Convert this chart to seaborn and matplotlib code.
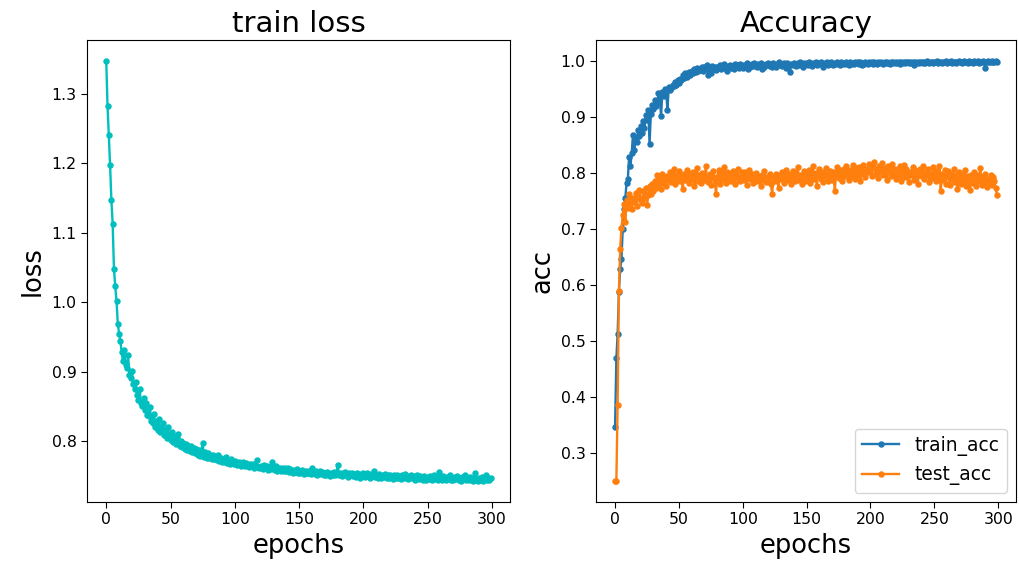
import matplotlib
matplotlib.use('Agg')
import matplotlib.pyplot as plt
import seaborn as sns

# per-epoch values
epochs = list(range(300))

train_loss = [
    1.347, 1.283, 1.240, 1.197, 1.147, 1.113, 1.048, 1.023, 1.002, 0.969,
    0.955, 0.945, 0.928, 0.916, 0.931, 0.910, 0.905, 0.924, 0.895, 0.891,
    0.901, 0.882, 0.876, 0.886, 0.866, 0.859, 0.875, 0.855, 0.851, 0.862,
    0.845, 0.855, 0.838, 0.836, 0.849, 0.829, 0.827, 0.840, 0.821, 0.829,
    0.817, 0.832, 0.813, 0.820, 0.827, 0.809, 0.816, 0.805, 0.821, 0.806,
    0.802, 0.813, 0.799, 0.808, 0.796, 0.805, 0.811, 0.794, 0.801, 0.792,
    0.798, 0.789, 0.796, 0.787, 0.794, 0.786, 0.793, 0.784, 0.791, 0.783,
    0.789, 0.781, 0.788, 0.779, 0.786, 0.797, 0.778, 0.785, 0.776, 0.783,
    0.776, 0.781, 0.775, 0.780, 0.774, 0.778, 0.773, 0.780, 0.772, 0.776,
    0.771, 0.775, 0.770, 0.777, 0.769, 0.773, 0.768, 0.774, 0.770, 0.767,
    0.772, 0.768, 0.766, 0.771, 0.767, 0.765, 0.770, 0.766, 0.764, 0.769,
    0.765, 0.763, 0.768, 0.764, 0.767, 0.762, 0.766, 0.773, 0.763, 0.761,
    0.765, 0.762, 0.760, 0.766, 0.761, 0.764, 0.759, 0.763, 0.760, 0.770,
    0.761, 0.759, 0.764, 0.758, 0.762, 0.759, 0.757, 0.761, 0.758, 0.762,
    0.757, 0.761, 0.756, 0.760, 0.757, 0.755, 0.759, 0.756, 0.760, 0.755,
    0.758, 0.754, 0.759, 0.756, 0.753, 0.758, 0.755, 0.754, 0.757, 0.753,
    0.762, 0.755, 0.753, 0.757, 0.752, 0.755, 0.758, 0.753, 0.756, 0.752,
    0.755, 0.751, 0.756, 0.753, 0.750, 0.755, 0.752, 0.756, 0.751, 0.754,
    0.766, 0.752, 0.755, 0.750, 0.754, 0.751, 0.756, 0.752, 0.749, 0.754,
    0.751, 0.755, 0.750, 0.753, 0.749, 0.754, 0.751, 0.748, 0.753, 0.750,
    0.754, 0.749, 0.752, 0.755, 0.750, 0.748, 0.753, 0.750, 0.757, 0.749,
    0.752, 0.748, 0.753, 0.750, 0.747, 0.752, 0.749, 0.753, 0.748, 0.751,
    0.747, 0.752, 0.749, 0.746, 0.751, 0.748, 0.752, 0.747, 0.750, 0.746,
    0.751, 0.748, 0.753, 0.747, 0.750, 0.746, 0.749, 0.752, 0.747, 0.750,
    0.745, 0.749, 0.751, 0.746, 0.750, 0.747, 0.745, 0.750, 0.747, 0.744,
    0.749, 0.746, 0.750, 0.745, 0.748, 0.751, 0.746, 0.749, 0.745, 0.756,
    0.747, 0.745, 0.750, 0.746, 0.744, 0.749, 0.746, 0.751, 0.745, 0.748,
    0.744, 0.749, 0.746, 0.750, 0.745, 0.748, 0.743, 0.749, 0.746, 0.752,
    0.745, 0.748, 0.744, 0.749, 0.746, 0.743, 0.748, 0.754, 0.745, 0.743,
    0.747, 0.744, 0.749, 0.743, 0.746, 0.752, 0.744, 0.748, 0.745, 0.747,
]

train_acc = [
    0.347, 0.469, 0.513, 0.588, 0.629, 0.647, 0.700, 0.736, 0.755, 0.782,
    0.790, 0.829, 0.812, 0.835, 0.868, 0.841, 0.862, 0.855, 0.877, 0.866,
    0.884, 0.871, 0.892, 0.880, 0.903, 0.895, 0.913, 0.852, 0.905, 0.921,
    0.914, 0.930, 0.919, 0.925, 0.942, 0.936, 0.901, 0.944, 0.938, 0.950,
    0.946, 0.912, 0.953, 0.948, 0.951, 0.958, 0.955, 0.962, 0.957, 0.966,
    0.960, 0.968, 0.966, 0.975, 0.970, 0.978, 0.972, 0.977, 0.981, 0.975,
    0.983, 0.979, 0.985, 0.980, 0.987, 0.982, 0.986, 0.984, 0.989, 0.983,
    0.990, 0.985, 0.993, 0.975, 0.988, 0.978, 0.991, 0.986, 0.989, 0.984,
    0.990, 0.987, 0.992, 0.985, 0.989, 0.994, 0.987, 0.991, 0.982, 0.990,
    0.993, 0.988, 0.991, 0.986, 0.994, 0.989, 0.992, 0.987, 0.995, 0.990,
    0.988, 0.993, 0.990, 0.996, 0.985, 0.992, 0.989, 0.994, 0.991, 0.996,
    0.992, 0.989, 0.995, 0.991, 0.997, 0.986, 0.993, 0.990, 0.995, 0.992,
    0.996, 0.991, 0.994, 0.989, 0.997, 0.993, 0.990, 0.995, 0.998, 0.992,
    0.995, 0.991, 0.997, 0.994, 0.988, 0.996, 0.993, 0.980, 0.995, 0.992,
    0.997, 0.994, 0.991, 0.996, 0.993, 0.998, 0.995, 0.990, 0.996, 0.994,
    0.997, 0.993, 0.999, 0.995, 0.991, 0.997, 0.994, 0.998, 0.992, 0.996,
    0.994, 0.999, 0.996, 0.990, 0.997, 0.995, 0.998, 0.993, 0.996, 0.999,
    0.995, 0.992, 0.997, 0.994, 0.999, 0.996, 0.993, 0.998, 0.995, 0.997,
    0.994, 0.999, 0.996, 0.993, 0.998, 0.995, 0.997, 0.994, 0.999, 0.996,
    0.998, 0.995, 0.999, 0.993, 0.997, 0.995, 0.998, 0.996, 0.994, 0.999,
    0.996, 0.998, 0.994, 0.999, 0.997, 0.995, 0.998, 0.996, 0.999, 0.997,
    0.995, 0.998, 0.996, 0.999, 0.997, 0.994, 0.998, 0.996, 0.999, 0.997,
    0.999, 0.996, 0.998, 0.995, 0.999, 0.997, 0.998, 0.996, 0.999, 0.998,
    0.996, 0.999, 0.997, 0.998, 0.993, 0.999, 0.997, 0.998, 0.996, 0.999,
    0.998, 0.996, 0.999, 0.997, 1.000, 0.998, 0.996, 0.999, 0.998, 0.997,
    0.999, 0.998, 1.000, 0.997, 0.999, 0.998, 0.996, 0.999, 0.998, 1.000,
    0.997, 0.999, 0.998, 1.000, 0.996, 0.999, 0.998, 0.997, 0.999, 1.000,
    0.998, 0.999, 0.997, 1.000, 0.998, 0.999, 0.996, 1.000, 0.998, 0.999,
    0.997, 1.000, 0.999, 0.998, 1.000, 0.997, 0.999, 0.998, 1.000, 0.999,
    0.987, 0.998, 1.000, 0.999, 0.998, 1.000, 0.999, 0.998, 1.000, 0.999,
]

test_acc = [
    0.250, 0.250, 0.386, 0.590, 0.665, 0.702, 0.725, 0.745, 0.712, 0.752,
    0.738, 0.762, 0.744, 0.735, 0.756, 0.748, 0.765, 0.741, 0.758, 0.770,
    0.752, 0.746, 0.767, 0.755, 0.773, 0.742, 0.760, 0.776, 0.762, 0.781,
    0.768, 0.785, 0.774, 0.797, 0.779, 0.790, 0.771, 0.799, 0.783, 0.792,
    0.776, 0.795, 0.788, 0.801, 0.784, 0.793, 0.808, 0.780, 0.796, 0.789,
    0.803, 0.785, 0.794, 0.772, 0.799, 0.787, 0.806, 0.791, 0.783, 0.798,
    0.790, 0.802, 0.777, 0.795, 0.809, 0.786, 0.797, 0.782, 0.800, 0.793,
    0.788, 0.812, 0.791, 0.784, 0.799, 0.778, 0.795, 0.803, 0.787, 0.763,
    0.792, 0.806, 0.781, 0.797, 0.789, 0.810, 0.795, 0.783, 0.801, 0.791,
    0.798, 0.786, 0.804, 0.793, 0.780, 0.799, 0.808, 0.790, 0.785, 0.802,
    0.794, 0.787, 0.801, 0.779, 0.796, 0.805, 0.789, 0.798, 0.782, 0.793,
    0.800, 0.786, 0.795, 0.791, 0.777, 0.797, 0.788, 0.803, 0.784, 0.792,
    0.786, 0.798, 0.781, 0.763, 0.793, 0.785, 0.799, 0.788, 0.774, 0.796,
    0.789, 0.801, 0.783, 0.795, 0.806, 0.787, 0.798, 0.792, 0.781, 0.803,
    0.794, 0.785, 0.799, 0.810, 0.788, 0.796, 0.780, 0.793, 0.804, 0.786,
    0.798, 0.791, 0.806, 0.783, 0.795, 0.812, 0.789, 0.800, 0.776, 0.797,
    0.807, 0.790, 0.801, 0.784, 0.799, 0.809, 0.793, 0.786, 0.803, 0.795,
    0.788, 0.802, 0.767, 0.797, 0.810, 0.791, 0.805, 0.798, 0.786, 0.808,
    0.795, 0.813, 0.799, 0.788, 0.806, 0.794, 0.815, 0.801, 0.790, 0.809,
    0.797, 0.811, 0.786, 0.804, 0.814, 0.799, 0.792, 0.808, 0.801, 0.816,
    0.803, 0.794, 0.811, 0.820, 0.798, 0.807, 0.791, 0.813, 0.802, 0.817,
    0.796, 0.809, 0.801, 0.787, 0.812, 0.804, 0.795, 0.816, 0.799, 0.808,
    0.790, 0.805, 0.797, 0.812, 0.786, 0.801, 0.815, 0.793, 0.807, 0.799,
    0.784, 0.802, 0.796, 0.810, 0.788, 0.805, 0.793, 0.781, 0.799, 0.807,
    0.794, 0.812, 0.789, 0.801, 0.796, 0.808, 0.784, 0.799, 0.791, 0.810,
    0.797, 0.786, 0.804, 0.792, 0.812, 0.767, 0.799, 0.787, 0.806, 0.781,
    0.795, 0.803, 0.778, 0.798, 0.789, 0.807, 0.784, 0.796, 0.772, 0.801,
    0.790, 0.781, 0.799, 0.786, 0.805, 0.777, 0.794, 0.788, 0.769, 0.796,
    0.783, 0.801, 0.791, 0.776, 0.797, 0.786, 0.809, 0.779, 0.793, 0.784,
    0.799, 0.775, 0.790, 0.782, 0.796, 0.778, 0.792, 0.785, 0.774, 0.761,
]

fig = plt.figure(figsize=(10.2, 5.65), dpi=100)
ax1 = fig.add_axes([0.0853, 0.1115, 0.4147, 0.8177])
ax2 = fig.add_axes([0.5843, 0.1115, 0.4118, 0.8177])

line_kw = dict(marker='.', markersize=7, linewidth=1.7, markeredgewidth=1.1)

# left: train loss
sns.lineplot(x=epochs, y=train_loss, ax=ax1, color='c', markeredgecolor='c', **line_kw)
ax1.set_title('train loss', fontsize=21)
ax1.set_xlabel('epochs', fontsize=18.5)
ax1.set_ylabel('loss', fontsize=18.5)
ax1.set_yticks([0.8, 0.9, 1.0, 1.1, 1.2, 1.3])

# right: accuracy
sns.lineplot(x=epochs, y=train_acc, ax=ax2, color='C0', markeredgecolor='C0',
             label='train_acc', **line_kw)
sns.lineplot(x=epochs, y=test_acc, ax=ax2, color='C1', markeredgecolor='C1',
             label='test_acc', **line_kw)
ax2.set_title('Accuracy', fontsize=21)
ax2.set_xlabel('epochs', fontsize=18.5)
ax2.set_ylabel('acc', fontsize=18.5)
ax2.legend(loc='lower right', fontsize=13.4)

for ax in (ax1, ax2):
    ax.set_xticks([0, 50, 100, 150, 200, 250, 300])
    ax.tick_params(labelsize=11.3, length=4)

fig.savefig('out.png', dpi=100)
